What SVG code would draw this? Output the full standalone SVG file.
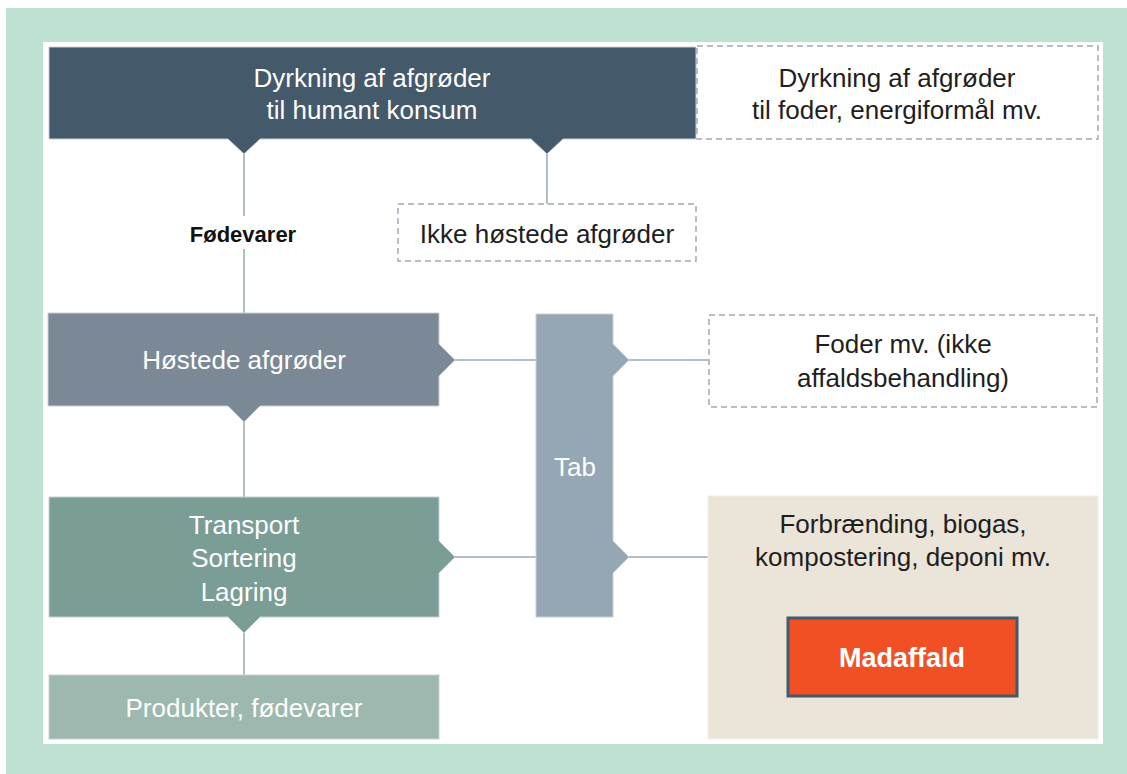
<svg xmlns="http://www.w3.org/2000/svg" width="1127" height="774" viewBox="0 0 1127 774">
<style>
.t{font-family:"Liberation Sans",Arial,Helvetica,sans-serif;font-size:26px;text-anchor:middle}
.w{fill:#ffffff}
.d{fill:#1e1e1e}
.dash{fill:#ffffff;stroke:#9fabb7;stroke-width:1.5;stroke-dasharray:6 4}
.edge{stroke:#c9d0d5;stroke-width:1}
.conn line{stroke:#9aa7b2;stroke-width:1.5}
</style>
<rect x="0" y="0" width="1127" height="774" fill="#ffffff"/>
<rect x="6" y="8" width="1121" height="766" fill="#bfe1d2"/>
<rect x="43" y="42" width="1060" height="702" fill="#ffffff"/>

<g id="connectors" class="conn">
<line x1="244" y1="154" x2="244" y2="216"/>
<line x1="244" y1="249" x2="244" y2="313"/>
<line x1="547" y1="154" x2="547" y2="204"/>
<line x1="455" y1="360" x2="536" y2="360"/>
<line x1="629" y1="360" x2="708" y2="360"/>
<line x1="244" y1="422" x2="244" y2="497"/>
<line x1="455" y1="557" x2="536" y2="557"/>
<line x1="629" y1="557" x2="708" y2="557"/>
<line x1="244" y1="633" x2="244" y2="675"/>
</g>

<g id="dyrkning-human">
<path class="edge" d="M49,47 H696 V139 H563 L547,154 L531,139 H260 L244,154 L228,139 H49 Z" fill="#44596a"/>
<text class="t w" x="372" y="87">Dyrkning af afgrøder</text>
<text class="t w" x="372" y="119">til humant konsum</text>
</g>

<g id="dyrkning-foder">
<rect class="dash" x="697" y="46" width="401" height="93"/>
<text class="t d" x="897" y="87">Dyrkning af afgrøder</text>
<text class="t d" x="897" y="119">til foder, energiformål mv.</text>
</g>

<g id="ikke-hostede">
<rect class="dash" x="398" y="204" width="298" height="57"/>
<text class="t d" x="547" y="243">Ikke høstede afgrøder</text>
</g>

<g id="fodevarer-label">
<text x="243" y="242" font-family="'Liberation Sans',Arial,Helvetica,sans-serif" font-size="22" font-weight="bold" text-anchor="middle" fill="#111111">Fødevarer</text>
</g>

<g id="hostede">
<path class="edge" d="M48,313 H439 V344 L455,360 L439,376 V406 H260 L244,422 L228,406 H48 Z" fill="#7b8896"/>
<text class="t w" x="244" y="369">Høstede afgrøder</text>
</g>

<g id="tab">
<path class="edge" d="M536,314 H613 V344 L629,360 L613,376 V541 L629,557 L613,573 V617 H536 Z" fill="#95a6b4"/>
<text class="t w" x="575" y="476">Tab</text>
</g>

<g id="foder">
<rect class="dash" x="709" y="315" width="388" height="92"/>
<text class="t d" x="903" y="353">Foder mv. (ikke</text>
<text class="t d" x="903" y="387">affaldsbehandling)</text>
</g>

<g id="transport">
<path class="edge" d="M49,497 H439 V541 L455,557 L439,573 V617 H260 L244,633 L228,617 H49 Z" fill="#7a9d95"/>
<text class="t w" x="244" y="534">Transport</text>
<text class="t w" x="244" y="567">Sortering</text>
<text class="t w" x="244" y="601">Lagring</text>
</g>

<g id="produkter">
<rect class="edge" x="49" y="675" width="390" height="64" fill="#9db8ae"/>
<text class="t w" x="244" y="717">Produkter, fødevarer</text>
</g>

<g id="affaldsbehandling">
<rect x="708" y="496" width="390" height="243" fill="#ebe4d9" stroke="#f3eee7" stroke-width="1"/>
<text class="t d" x="903" y="533">Forbrænding, biogas,</text>
<text class="t d" x="903" y="566">kompostering, deponi mv.</text>
</g>

<g id="madaffald">
<rect x="788" y="618" width="229" height="78" fill="#f05023" stroke="#44596a" stroke-width="3"/>
<text x="902" y="667" font-family="'Liberation Sans',Arial,Helvetica,sans-serif" font-size="27" font-weight="bold" text-anchor="middle" fill="#ffffff">Madaffald</text>
</g>
</svg>
